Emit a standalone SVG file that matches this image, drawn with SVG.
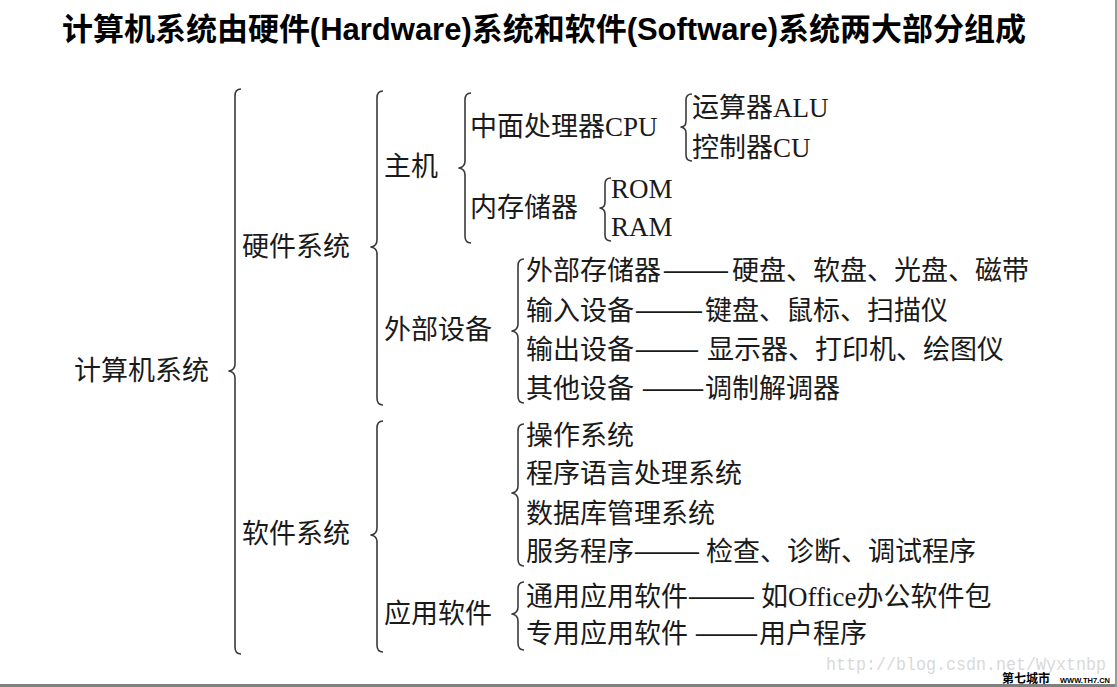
<svg xmlns="http://www.w3.org/2000/svg" width="1117" height="687" viewBox="0 0 1117 687">
<style>
.t{font-family:"Liberation Serif","Noto Sans CJK SC",serif;font-size:27px;fill:#1a1a1a}
.d{font-family:"Noto Sans CJK SC",sans-serif;font-size:27px;fill:#1a1a1a}
.title{font-family:"Liberation Sans","Noto Sans CJK SC",sans-serif;font-size:31px;font-weight:bold;fill:#000}
.br{fill:none;stroke:#3a3a3a;stroke-width:1.6;stroke-linejoin:round}
.wm{font-family:"Liberation Mono",monospace;font-size:19px;fill:#d9d9d9}
</style>
<rect width="1117" height="687" fill="#fff"/>
<text class="title" x="62" y="40" textLength="964" lengthAdjust="spacingAndGlyphs">计算机系统由硬件(Hardware)系统和软件(Software)系统两大部分组成</text>

<g id="connectors">
<path class="br" d="M241 89 Q235 89 235 96 L235 364 Q235 370 229 371 Q235 372 235 378 L235 647 Q235 654 241 654"/>
<path class="br" d="M383 91 Q377 91 377 98 L377 240 Q377 246 371 247 Q377 248 377 254 L377 398 Q377 405 383 405"/>
<path class="br" d="M383 421 Q377 421 377 428 L377 528 Q377 534 371 535 Q377 536 377 542 L377 645 Q377 652 383 652"/>
<path class="br" d="M471 93 Q465 93 465 100 L465 161 Q465 167 459 168 Q465 169 465 175 L465 236 Q465 243 471 243"/>
<path class="br" d="M524 259 Q518 259 518 266 L518 324 Q518 330 512 331 Q518 332 518 338 L518 396 Q518 403 524 403"/>
<path class="br" d="M524 424 Q518 424 518 431 L518 486 Q518 492 512 493 Q518 494 518 500 L518 559 Q518 566 524 566"/>
<path class="br" d="M524 582 Q518 582 518 589 L518 607 Q518 613 512 614 Q518 615 518 621 L518 643 Q518 650 524 650"/>
<path class="br" d="M692 94 Q686 94 686 100 L686 121 Q686 127 681 127 Q686 128 686 133 L686 155 Q686 161 692 161"/>
<path class="br" d="M611 178 Q605 178 605 184 L605 202 Q605 208 600 208 Q605 209 605 214 L605 235 Q605 241 611 241"/>
</g>

<g id="n-computer"><text class="t" x="74" y="380">计算机系统</text></g>
<g id="n-hardware"><text class="t" x="242" y="256">硬件系统</text></g>
<g id="n-software"><text class="t" x="242" y="543">软件系统</text></g>
<g id="n-host"><text class="t" x="384" y="176">主机</text></g>
<g id="n-peripheral"><text class="t" x="384" y="339">外部设备</text></g>
<g id="n-app"><text class="t" x="384" y="623">应用软件</text></g>
<g id="n-cpu"><text class="t" x="470" y="136">中面处理器CPU</text></g>
<g id="n-memory"><text class="t" x="470" y="217">内存储器</text></g>
<g id="n-alu"><text class="t" x="692" y="117">运算器ALU</text></g>
<g id="n-cu"><text class="t" x="692" y="157">控制器CU</text></g>
<g id="n-rom"><text class="t" x="611" y="198">ROM</text></g>
<g id="n-ram"><text class="t" x="611" y="236">RAM</text></g>

<g id="n-extstore">
<text class="t" x="526" y="280">外部存储器</text>
<text class="d" x="662" y="280" textLength="68" lengthAdjust="spacingAndGlyphs">——</text>
<text class="t" x="732" y="280">硬盘、软盘、光盘、磁带</text>
</g>
<g id="n-input">
<text class="t" x="526" y="320">输入设备</text>
<text class="d" x="634" y="320" textLength="70" lengthAdjust="spacingAndGlyphs">——</text>
<text class="t" x="705" y="320">键盘、鼠标、扫描仪</text>
</g>
<g id="n-output">
<text class="t" x="526" y="359">输出设备</text>
<text class="d" x="634" y="359" textLength="66" lengthAdjust="spacingAndGlyphs">——</text>
<text class="t" x="707" y="359">显示器、打印机、绘图仪</text>
</g>
<g id="n-other">
<text class="t" x="526" y="398">其他设备</text>
<text class="d" x="641" y="398" textLength="64" lengthAdjust="spacingAndGlyphs">——</text>
<text class="t" x="705" y="398">调制解调器</text>
</g>

<g id="n-os"><text class="t" x="526" y="445">操作系统</text></g>
<g id="n-lang"><text class="t" x="526" y="483">程序语言处理系统</text></g>
<g id="n-db"><text class="t" x="526" y="523">数据库管理系统</text></g>
<g id="n-service">
<text class="t" x="526" y="561">服务程序</text>
<text class="d" x="633" y="561" textLength="68" lengthAdjust="spacingAndGlyphs">——</text>
<text class="t" x="706" y="561">检查、诊断、调试程序</text>
</g>
<g id="n-general">
<text class="t" x="526" y="606">通用应用软件</text>
<text class="d" x="687" y="606" textLength="69" lengthAdjust="spacingAndGlyphs">——</text>
<text class="t" x="761" y="606">如Office办公软件包</text>
</g>
<g id="n-special">
<text class="t" x="526" y="643">专用应用软件</text>
<text class="d" x="694" y="643" textLength="65" lengthAdjust="spacingAndGlyphs">——</text>
<text class="t" x="759" y="643">用户程序</text>
</g>

<g id="watermark">
<text class="wm" x="826" y="670" textLength="280" lengthAdjust="spacingAndGlyphs">http://blog.csdn.net/Wyxtnbp</text>
<text x="1002" y="683" textLength="48" lengthAdjust="spacingAndGlyphs" style="font-family:'Noto Sans CJK SC',sans-serif;font-size:12px;font-weight:bold;fill:#000">第七城市</text>
<text x="1060" y="683" textLength="50" lengthAdjust="spacingAndGlyphs" style="font-family:'Liberation Sans',sans-serif;font-size:8px;font-weight:bold;fill:#000">WWW.TH7.CN</text>
</g>
<rect x="0" y="684" width="1117" height="3" fill="#808080"/>
<rect x="1115" y="0" width="2" height="687" fill="#9a9a9a"/>
</svg>
